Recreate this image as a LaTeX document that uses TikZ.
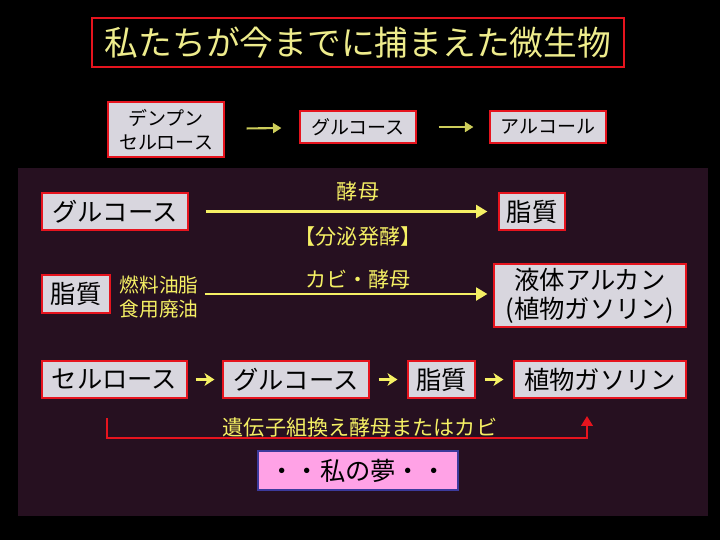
\documentclass[tikz,border=0pt]{standalone}
\usepackage{fontspec}
\setmainfont{Noto Sans CJK JP}
\usepackage{tikz}
\usetikzlibrary{arrows.meta}
\definecolor{panelbg}{RGB}{38,16,32}
\definecolor{boxgrey}{RGB}{216,214,222}
\definecolor{boxred}{RGB}{230,20,30}
\definecolor{titleyel}{RGB}{238,236,140}
\definecolor{textyel}{RGB}{245,240,100}
\definecolor{olivearr}{RGB}{205,205,90}
\definecolor{dreampink}{RGB}{255,162,230}
\definecolor{dreamblue}{RGB}{60,58,156}
\tikzstyle{titlebox} = [rectangle, draw=boxred, fill=black, line width=1pt, text=titleyel, minimum width=13.3cm, minimum height=1.225cm, font=\fontsize{24}{28}\selectfont]
\tikzstyle{topbox} = [rectangle, draw=boxred, fill=boxgrey, line width=0.8pt, align=center, minimum width=2.9cm, minimum height=0.8cm, inner sep=0pt, font=\fontsize{13.5}{17.5}\selectfont]
\tikzstyle{greybox} = [rectangle, draw=boxred, fill=boxgrey, line width=0.8pt, align=center, minimum height=0.925cm, inner sep=0pt, font=\fontsize{18}{18.5}\selectfont]
\tikzstyle{yell} = [text=textyel, align=center, inner sep=0pt, font=\fontsize{15}{17}\selectfont]
\tikzstyle{dream} = [rectangle, draw=dreamblue, fill=dreampink, line width=2pt, minimum width=5cm, minimum height=0.975cm, font=\fontsize{18}{20}\selectfont]
\tikzstyle{thinline} = [draw=olivearr, line width=1.5pt, -{Triangle[length=6pt,width=7pt]}]
\tikzstyle{line} = [draw=textyel, line width=2pt, -{Triangle[length=8pt,width=9pt]}]
\tikzstyle{shortline} = [draw=textyel, line width=2.2pt, -{Stealth[length=7pt,width=9pt,inset=2pt]}]
\tikzstyle{redline} = [draw=boxred, line width=2pt, -{Triangle[length=7pt,width=8pt]}]

\begin{document}
\begin{tikzpicture}[x=0.025cm, y=-0.025cm]

\fill[black] (0,0) rectangle (720,540);
\fill[panelbg] (18,168) rectangle (708,516);

\node [titlebox] (T) at (358,42.5) {私たちが今までに捕まえた微生物};

\node [topbox, minimum height=1.375cm] (D) at (166,129.5) {デンプン\\セルロース};
\node [topbox] (G) at (358,127) {グルコース};
\node [topbox] (A) at (548,127) {アルコール};

\path [thinline, shorten <=0.55cm, shorten >=0.45cm] (D) -- (G);
\path [thinline, shorten <=0.55cm, shorten >=0.4cm] (G) -- (A);

\node [greybox, minimum width=3.65cm] (G1) at (115,211.5) {グルコース};
\node [greybox, minimum width=1.65cm] (L1) at (532,211.5) {脂質};
\node [yell] (Y1) at (358,191) {酵母};
\node [yell] (Y2) at (358,236) {【分泌発酵】};
\path [line, shorten <=0.425cm, shorten >=0.275cm] (G1) -- (L1);

\node [greybox, minimum width=1.7cm, minimum height=0.95cm] (L2) at (76,294) {脂質};
\node [yell, font=\fontsize{14}{17}\selectfont] (O) at (159,297) {燃料油脂\\食用廃油};
\node [greybox, minimum width=4.8cm, minimum height=1.575cm, font=\fontsize{18}{20.5}\selectfont] (K) at (590,295.5) {液体アルカン\\(植物ガソリン)};
\node [yell] (Y3) at (358,279) {カビ・酵母};
\path [line, shorten <=0.15cm, shorten >=0.15cm] (O.east |- L2.east) -- (K.west |- L2.east);

\node [greybox, minimum width=3.625cm] (C1) at (114.5,379.5) {セルロース};
\node [greybox, minimum width=3.65cm] (C2) at (296,379.5) {グルコース};
\node [greybox, minimum width=1.675cm] (C3) at (441.5,379.5) {脂質};
\node [greybox, minimum width=4.3cm] (C4) at (600,379.5) {植物ガソリン};

\path [shortline, shorten <=0.2cm, shorten >=0.2cm] (C1) -- (C2);
\path [shortline, shorten <=0.225cm, shorten >=0.25cm] (C2) -- (C3);
\path [shortline, shorten <=0.225cm, shorten >=0.25cm] (C3) -- (C4);

\coordinate (gmL) at (107,418);
\coordinate (gmR) at (587,416);
\path [redline] (gmL) -- ++(0,20) -| (gmR);
\node [yell] (Y4) at (360,427) {遺伝子組換え酵母またはカビ};

\node [dream] (M) at (358,470.5) {・・私の夢・・};

\end{tikzpicture}
\end{document}
